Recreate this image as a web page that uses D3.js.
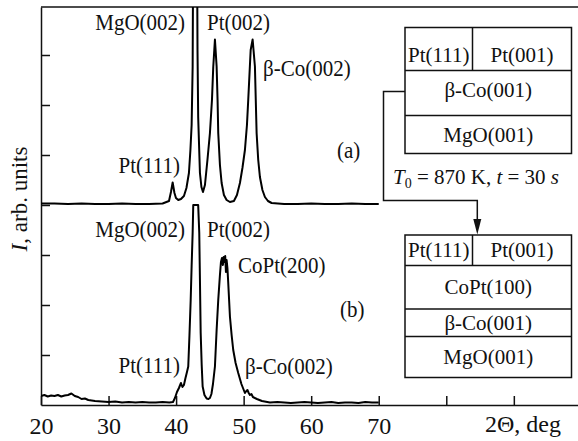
<!DOCTYPE html>
<html>
<head>
<meta charset="utf-8">
<script src="https://cdn.jsdelivr.net/npm/d3@7"></script>
<style>
  html, body { margin: 0; padding: 0; background: #fff; }
  svg { display: block; }
</style>
</head>
<body>
<div id="chart"></div>
<script>
const WIDTH = 578;
const HEIGHT = 441;
const SERIF = "'Liberation Serif', 'Times New Roman', Tinos, serif";

// 2-theta (deg) and intensity, curve (a) - initial film
const thetaA = [20, 22, 24, 26, 28, 30, 32, 34, 36, 38, 38.95, 39.24, 39.49, 39.76, 39.98, 40.32, 40.72, 41.16, 41.53, 41.9,
  42.12, 42.3, 42.45, 42.5, 42.6, 42.8, 43.0, 43.13, 43.17, 43.27, 43.53, 43.75, 43.98, 44.27, 44.64, 45.01, 45.31, 45.5,
  45.75, 46.0, 46.14, 46.24, 46.49, 46.74, 47.08, 47.48, 47.97, 48.56, 49.01, 49.45, 49.82, 50.19, 50.49, 50.68, 51.04,
  51.33, 51.67, 51.92, 52.16, 52.41, 52.78, 53.15, 53.6, 54.14, 56, 58, 60, 62, 64, 66, 68, 70];
const intensA = [4.03, 4.03, 4.02, 4.03, 4.02, 4.02, 4.03, 4.02, 4.02, 4.03, 4.08, 4.26, 4.45, 4.24, 4.14, 4.1, 4.12, 4.18, 4.34, 4.64,
  5.1, 5.6, 6.76, 8.3, 9.5, 10, 9.5, 8.3, 7.1, 5.76, 4.64, 4.36, 4.26, 4.4, 4.9, 5.44, 6.1, 6.76,
  7.31, 6.77, 6.1, 5.44, 4.8, 4.44, 4.2, 4.1, 4.06, 4.08, 4.2, 4.44, 4.74, 5.1, 5.6, 6.1, 7.1,
  7.31, 6.77, 5.44, 4.9, 4.56, 4.3, 4.16, 4.08, 4.04, 4.02, 4.02, 4.03, 4.02, 4.02, 4.03, 4.02, 4.02];

// curve (b) - after annealing
const thetaB = [20, 20.5, 21, 21.5, 22, 22.5, 23, 23.5, 24, 24.5, 25, 25.5, 26, 26.5, 27, 28, 29, 30, 31, 32, 33, 34, 35, 36,
  37, 38, 39, 39.54, 39.83, 40.13, 40.42, 40.72, 40.94,
  41.16, 41.39, 41.61, 41.8, 41.98, 42.16, 42.3, 42.45, 42.54, 42.79, 43.0, 43.27, 43.43, 43.53, 43.64, 43.79, 43.93,
  44.2, 44.52, 44.79, 45.01, 45.23, 45.46, 45.75, 46.0, 46.24, 46.49, 46.64, 46.79, 46.93, 47.04, 47.16, 47.27, 47.38,
  47.48, 47.6, 47.72, 47.97, 48.22, 48.46, 48.81, 49.2, 49.67, 50.19, 50.4, 50.56, 50.75, 50.93, 51.15, 51.37, 51.96,
  52.71, 53.89, 55, 56, 57, 58, 59, 60, 61, 62, 63, 64, 65, 66, 67, 68, 69, 70];
const intensB = [0.18, 0.2, 0.17, 0.19, 0.18, 0.2, 0.17, 0.19, 0.2, 0.23, 0.18, 0.16, 0.12, 0.13, 0.1, 0.08, 0.07, 0.06, 0.07, 0.05, 0.06, 0.05, 0.06, 0.05,
  0.05, 0.06, 0.05, 0.06, 0.14, 0.26, 0.34, 0.44, 0.36,
  0.4, 0.54, 0.66, 0.77, 1.4, 2.1, 2.78, 3.44, 4.0, 4.0, 4.0, 4.0, 3.44, 2.5, 1.44, 0.8, 0.37,
  0.2, 0.13, 0.12, 0.14, 0.22, 0.42, 0.77, 1.5, 2.1, 2.6, 2.86, 2.94, 2.8, 2.96, 2.86, 2.98, 2.66,
  2.9, 2.74, 2.44, 1.77, 1.4, 1.1, 0.84, 0.64, 0.42, 0.24, 0.28, 0.3, 0.24, 0.2, 0.22, 0.16, 0.12,
  0.08, 0.05, 0.06, 0.05, 0.04, 0.05, 0.06, 0.05, 0.04, 0.05, 0.06, 0.04, 0.05, 0.05, 0.04, 0.06, 0.05, 0.05];

const xTicks = [20, 30, 40, 50, 60, 70, 80, 90];
const xTickLabels = ["20", "30", "40", "50", "60", "70", "", ""];
const yTicks = [1, 2, 3, 4, 5, 6, 7];

const peakLabelsA = ["MgO(002)", "Pt(002)", "β-Co(002)", "Pt(111)"];
const peakLabelsB = ["MgO(002)", "Pt(002)", "CoPt(200)", "Pt(111)", "β-Co(002)"];
const layersA = [["Pt(111)", "Pt(001)"], ["β-Co(001)"], ["MgO(001)"]];
const layersB = [["Pt(111)", "Pt(001)"], ["CoPt(100)"], ["β-Co(001)"], ["MgO(001)"]];

const svg = d3.select("#chart")
  .append("svg")
  .attr("width", WIDTH)
  .attr("height", HEIGHT)
  .style("font-family", SERIF);

const x = d3.scaleLinear().domain([20, 99.5]).range([41, 578]);
const y = d3.scaleLinear().domain([0, 7.96]).range([405, 7]);

svg.append("clipPath").attr("id", "plotclip")
  .append("rect")
  .attr("x", 41).attr("y", 7)
  .attr("width", 578 - 41).attr("height", 405 - 7);

// axes
const xAxis = d3.axisBottom(x)
  .tickValues(xTicks)
  .tickSizeInner(-9)
  .tickSizeOuter(0)
  .tickPadding(12)
  .tickFormat((d, i) => xTickLabels[i]);

const gx = svg.append("g").attr("transform", "translate(0,405)").call(xAxis);
gx.attr("font-family", null);
gx.selectAll("text").attr("font-size", 24).style("font-family", SERIF).attr("fill", "#111");
gx.selectAll("path, line").attr("stroke", "#111").attr("stroke-width", 1.5);

const yAxis = d3.axisLeft(y)
  .tickValues(yTicks)
  .tickSizeInner(-9)
  .tickSizeOuter(0)
  .tickFormat("");
const gy = svg.append("g").attr("transform", "translate(41,0)").call(yAxis);
gy.selectAll("path, line").attr("stroke", "#111").attr("stroke-width", 1.5);

// top frame line
svg.append("line")
  .attr("x1", 41).attr("x2", 578)
  .attr("y1", y.range()[1]).attr("y2", y.range()[1])
  .attr("stroke", "#111").attr("stroke-width", 1.5);

// curves
const line = d3.line()
  .x(d => x(d[0]))
  .y(d => y(d[1]));

const curves = svg.append("g").attr("clip-path", "url(#plotclip)");
[[thetaA, intensA], [thetaB, intensB]].forEach(([t, v]) => {
  curves.append("path")
    .datum(d3.zip(t, v))
    .attr("d", line)
    .attr("fill", "none")
    .attr("stroke", "#000")
    .attr("stroke-width", 2)
    .attr("stroke-linejoin", "round");
});

// peak annotations
function label(txt, px, py, anchor, size) {
  return svg.append("text")
    .attr("transform", `translate(${px},${py}) scale(1,1.08)`)
    .attr("text-anchor", anchor || "start")
    .attr("font-size", size || 21)
    .style("font-family", SERIF)
    .attr("fill", "#111")
    .text(txt);
}

label(peakLabelsA[0], 185, 30, "end");
label(peakLabelsA[1], 207, 30);
label(peakLabelsA[2], 263, 76);
label(peakLabelsA[3], 180, 172.5, "end");
label("(a)", 337, 158);

label(peakLabelsB[0], 185, 237, "end");
label(peakLabelsB[1], 207, 237);
label(peakLabelsB[2], 238, 273);
label(peakLabelsB[3], 180, 373, "end");
label(peakLabelsB[4], 245, 374);
label("(b)", 340, 317);

// x axis title
svg.append("text")
  .attr("x", 485).attr("y", 432)
  .attr("font-size", 24)
  .style("font-family", SERIF)
  .attr("fill", "#111")
  .text("2Θ, deg");

// y axis title
const yt = svg.append("text")
  .attr("transform", "translate(27,199) rotate(-90)")
  .attr("text-anchor", "middle")
  .attr("font-size", 23)
  .style("font-family", SERIF)
  .attr("fill", "#111");
yt.append("tspan").attr("font-style", "italic").text("I");
yt.append("tspan").text(", arb. units");

// layer stack boxes
function stack(layers, rows, left, right, split, baselines) {
  const g = svg.append("g").style("font-family", SERIF).attr("fill", "#111");
  g.append("rect")
    .attr("x", left).attr("y", rows[0])
    .attr("width", right - left).attr("height", rows[rows.length - 1] - rows[0])
    .attr("fill", "none").attr("stroke", "#111").attr("stroke-width", 1.5);
  rows.slice(1, -1).forEach(r => {
    g.append("line").attr("x1", left).attr("x2", right).attr("y1", r).attr("y2", r)
      .attr("stroke", "#111").attr("stroke-width", 1.5);
  });
  layers.forEach((cells, i) => {
    if (cells.length === 2) {
      g.append("line").attr("x1", split).attr("x2", split).attr("y1", rows[i]).attr("y2", rows[i + 1])
        .attr("stroke", "#111").attr("stroke-width", 1.5);
      g.append("text").attr("x", (left + split) / 2).attr("y", baselines[i])
        .attr("text-anchor", "middle").attr("font-size", 21).text(cells[0]);
      g.append("text").attr("x", (split + right) / 2).attr("y", baselines[i])
        .attr("text-anchor", "middle").attr("font-size", 21).text(cells[1]);
    } else {
      g.append("text").attr("x", (left + right) / 2).attr("y", baselines[i])
        .attr("text-anchor", "middle").attr("font-size", 21).text(cells[0]);
    }
  });
}

stack(layersA, [27.5, 70.5, 115.5, 153.5], 405, 571.5, 472.5, [61.5, 97, 142]);
stack(layersB, [235, 265.5, 309, 336.5, 377.5], 405, 571.5, 472.5, [256.5, 293.5, 330, 363.5]);

// annealing conditions
const cond = svg.append("text")
  .attr("x", 476).attr("y", 183.5)
  .attr("text-anchor", "middle")
  .attr("font-size", 21)
  .style("font-family", SERIF)
  .attr("fill", "#111");
cond.append("tspan").attr("font-style", "italic").text("T");
cond.append("tspan").attr("font-size", 14).attr("dy", 4).text("0");
cond.append("tspan").attr("dy", -4).text(" = 870 K, ");
cond.append("tspan").attr("font-style", "italic").text("t");
cond.append("tspan").text(" = 30 ");
cond.append("tspan").attr("font-style", "italic").text("s");

// connector arrow
svg.append("path")
  .attr("d", "M405,91.5H383.5V200.5H477.3V221")
  .attr("fill", "none").attr("stroke", "#111").attr("stroke-width", 1.5);
svg.append("path")
  .attr("d", "M473.3,219L481.3,219L477.3,234.5Z")
  .attr("fill", "#111");
</script>
</body>
</html>
